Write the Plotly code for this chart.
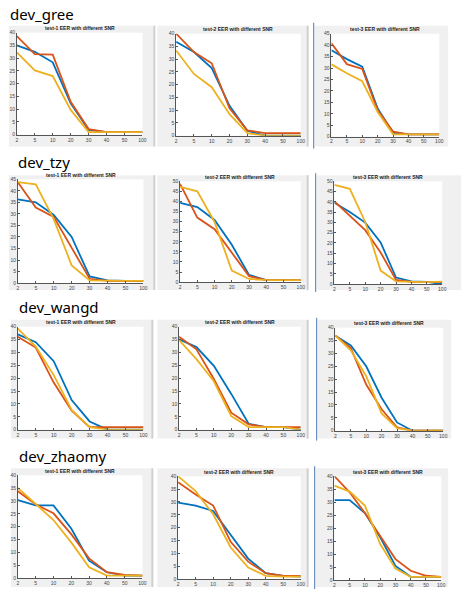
import plotly.graph_objects as go

W, H = 469, 599

snr = ['2', '5', '10', '20', '30', '40', '50', '100']
devices = ['dev_gree', 'dev_tzy', 'dev_wangd', 'dev_zhaomy']
tests = ['test-1', 'test-2', 'test-3']
y_max = [[40, 40, 45], [45, 50, 50], [40, 40, 40], [40, 40, 40]]

# dev_gree
gree_t1_blue = [35, 32.5, 28.4, 12.3, 1.9, 1, 1, 1]
gree_t1_red = [38.7, 31.6, 31.4, 12.9, 2.2, 1, 1, 1]
gree_t1_yellow = [32.3, 25.2, 23, 9.7, 1, 1, 1, 1]
gree_t2_blue = [36.8, 32.8, 26.5, 11.7, 1.9, 0, 0, 0]
gree_t2_red = [40, 32.8, 28.4, 10.7, 2.1, 1, 1, 1]
gree_t2_yellow = [33.4, 24.2, 19, 8.4, 1, 0, 0, 0]
gree_t3_blue = [37.8, 33.9, 30.6, 12.3, 1.7, 1, 1, 1]
gree_t3_red = [40.8, 31.7, 29.6, 11.5, 2.2, 1, 1, 1]
gree_t3_yellow = [31.6, 27.7, 24.2, 10.8, 1, 1, 1, 1]
# dev_tzy
tzy_t1_blue = [36.3, 35, 29.5, 20, 2.9, 1.2, 1, 1]
tzy_t1_red = [43.7, 32.7, 28.7, 15, 1.9, 1, 1, 1]
tzy_t1_yellow = [43.7, 42.8, 27.7, 7.7, 1.2, 1, 1, 1]
tzy_t2_blue = [39.3, 37.2, 30.8, 18.5, 3.6, 1, 1, 1]
tzy_t2_red = [48.7, 32, 26.2, 14.8, 3, 1, 1, 1]
tzy_t2_yellow = [47.2, 45, 29.8, 5.7, 1.6, 1, 1, 1]
tzy_t3_blue = [39.5, 35, 29.9, 20.3, 3.2, 1.3, 1.1, 0]
tzy_t3_red = [40.2, 33.1, 26.2, 15.4, 2.1, 1.1, 1, 1]
tzy_t3_yellow = [48.2, 46.3, 30.2, 6.6, 1.3, 1, 1, 1.2]
# dev_wangd
wangd_t1_blue = [37, 34, 26.6, 11.5, 3.2, 0, 0, 0]
wangd_t1_red = [36.1, 31.9, 18.3, 7.4, 1, 1, 1, 1]
wangd_t1_yellow = [39.3, 32.3, 21.2, 7.7, 1, 0, 0, 0]
wangd_t2_blue = [35.1, 32.1, 24.8, 13.9, 2.3, 1, 1, 0]
wangd_t2_red = [36.1, 31.2, 19.7, 6.6, 2.1, 1, 1, 1]
wangd_t2_yellow = [34.8, 27.4, 18.8, 5.3, 1, 1, 1, 0]
wangd_t3_blue = [36.9, 33.1, 25, 12.8, 3.2, 0, 0, 0]
wangd_t3_red = [36.9, 32.1, 17.9, 8.3, 1.3, 0, 0, 0]
wangd_t3_yellow = [36.9, 31.2, 21.2, 6.7, 1, 0, 0, 0]
# dev_zhaomy
zhaomy_t1_blue = [30.3, 28.3, 28.3, 19.3, 6.8, 2.3, 1, 1]
zhaomy_t1_red = [33.8, 28.7, 25.2, 17.1, 7.7, 2.3, 1.3, 1]
zhaomy_t1_yellow = [35.1, 28.7, 22.6, 13.9, 4.2, 1, 1, 1]
zhaomy_t2_blue = [29.7, 28.6, 26.5, 17.4, 8, 2.3, 1.3, 1]
zhaomy_t2_red = [37.7, 32.9, 28.6, 14.5, 6.8, 2.3, 1.3, 1.3]
zhaomy_t2_yellow = [40, 34.2, 25.2, 12.3, 4.5, 1.3, 1, 1]
zhaomy_t3_blue = [30.8, 30.8, 25.8, 16.5, 5.5, 1.3, 1.3, 1.3]
zhaomy_t3_red = [40, 33.8, 25.8, 16.8, 8.1, 3.6, 1.7, 1.3]
zhaomy_t3_yellow = [36.4, 34.1, 28.7, 13.9, 4.5, 1.3, 1.3, 1.3]

panels = [
    [(gree_t1_blue, gree_t1_red, gree_t1_yellow), (gree_t2_blue, gree_t2_red, gree_t2_yellow), (gree_t3_blue, gree_t3_red, gree_t3_yellow)],
    [(tzy_t1_blue, tzy_t1_red, tzy_t1_yellow), (tzy_t2_blue, tzy_t2_red, tzy_t2_yellow), (tzy_t3_blue, tzy_t3_red, tzy_t3_yellow)],
    [(wangd_t1_blue, wangd_t1_red, wangd_t1_yellow), (wangd_t2_blue, wangd_t2_red, wangd_t2_yellow), (wangd_t3_blue, wangd_t3_red, wangd_t3_yellow)],
    [(zhaomy_t1_blue, zhaomy_t1_red, zhaomy_t1_yellow), (zhaomy_t2_blue, zhaomy_t2_red, zhaomy_t2_yellow), (zhaomy_t3_blue, zhaomy_t3_red, zhaomy_t3_yellow)],
]

colors = ['#0072BD', '#D95319', '#EDB120']

# layout in pixels: plot areas (x0, x1, y0, y1) and gray panels
plot_px = [
    [(16, 143, 30, 133), (177, 303, 31, 134), (334, 443, 31, 135)],
    [(17, 144, 178, 283), (181, 303, 180, 282), (337, 446, 180, 284)],
    [(17, 144, 327, 431), (180, 303, 327, 431), (338, 447, 328, 432)],
    [(17, 143, 477, 581), (179, 303, 478, 582), (337, 445, 478, 583)],
]
gray_px = [
    [(8, 155, 23, 145), (158, 310, 23, 145), (317, 452, 23, 145)],
    [(8, 155, 174, 290), (158, 310, 174, 290), (319, 465, 174, 290)],
    [(10, 153, 320, 440), (158, 310, 320, 440), (320, 455, 320, 440)],
    [(10, 153, 470, 590), (158, 310, 470, 590), (318, 452, 470, 590)],
]
title_px = [(8, 11.5), (16, 161), (17, 307.5), (17, 457.5)]
blue_sep_px = [(316, 20, 147), (318, 172, 292), (319, 318, 442), (317, 468, 592)]
edge_px = [(155, 23, 145), (310, 23, 145), (155, 174, 290), (310, 174, 290),
           (153, 320, 440), (310, 320, 440), (153, 470, 590), (310, 470, 590)]


def px(x):
    return x / W


def py(y):
    return 1 - y / H


fig = go.Figure()
shapes = []
annotations = []
layout_axes = {}

k = 0
for r in range(4):
    for c in range(3):
        k += 1
        xa = 'x' if k == 1 else f'x{k}'
        ya = 'y' if k == 1 else f'y{k}'
        for series, col in zip(panels[r][c], colors):
            fig.add_trace(go.Scatter(x=snr, y=series, mode='lines',
                                     line=dict(color=col, width=1.8),
                                     xaxis=xa, yaxis=ya, showlegend=False,
                                     hoverinfo='skip'))
        x0, x1, y0, y1 = plot_px[r][c]
        axcommon = dict(showline=True, linecolor='#555555', linewidth=0.7,
                        ticks='inside', ticklen=2, tickwidth=0.6, tickcolor='#555555',
                        tickfont=dict(size=5, color='#444444', family='Liberation Sans'),
                        showgrid=False, zeroline=False, fixedrange=True)
        layout_axes['xaxis' if k == 1 else f'xaxis{k}'] = dict(
            domain=[px(x0), px(x1)], anchor=ya, type='category',
            categoryorder='array', categoryarray=snr, range=[0, 7], **axcommon)
        layout_axes['yaxis' if k == 1 else f'yaxis{k}'] = dict(
            domain=[py(y1), py(y0)], anchor=xa, range=[0, y_max[r][c]],
            dtick=5, tick0=0, **axcommon)
        gx0, gx1, gy0, gy1 = gray_px[r][c]
        shapes.append(dict(type='rect', xref='paper', yref='paper', layer='below',
                           x0=px(gx0), x1=px(gx1), y0=py(gy1), y1=py(gy0),
                           fillcolor='#f0f0f0', line=dict(width=0)))
        shapes.append(dict(type='rect', xref='paper', yref='paper', layer='below',
                           x0=px(x0), x1=px(x1), y0=py(y1), y1=py(y0),
                           fillcolor='white', line=dict(width=0)))
        annotations.append(dict(text=f'<b>{tests[c]} EER with different SNR</b>',
                                xref='paper', yref='paper', x=px((x0 + x1) / 2),
                                y=py(y0 - 0.5), xanchor='center', yanchor='bottom',
                                showarrow=False, borderpad=0,
                                font=dict(size=5, color='#222222', family='Liberation Sans')))
    tx, ty = title_px[r]
    annotations.append(dict(text=devices[r], xref='paper', yref='paper',
                            x=px(tx), y=py(ty), xanchor='left', yanchor='middle',
                            showarrow=False, borderpad=0,
                            font=dict(size=15, color='black', family='Noto Sans')))

for (sx, sy0, sy1) in edge_px:
    shapes.append(dict(type='line', xref='paper', yref='paper', layer='below',
                       x0=px(sx), x1=px(sx), y0=py(sy0), y1=py(sy1),
                       line=dict(color='#d0d0d0', width=2)))

for (sx, sy0, sy1) in blue_sep_px:
    shapes.append(dict(type='line', xref='paper', yref='paper',
                       x0=px(sx), x1=px(sx), y0=py(sy0), y1=py(sy1),
                       line=dict(color='#6a8fc0', width=1.2)))

fig.update_layout(width=W, height=H, margin=dict(l=0, r=0, t=0, b=0),
                  paper_bgcolor='white', plot_bgcolor='rgba(0,0,0,0)',
                  shapes=shapes, annotations=annotations, **layout_axes)

fig.write_html("out.html", config={'displayModeBar': False},
               post_script="document.body.style.margin='0';")
